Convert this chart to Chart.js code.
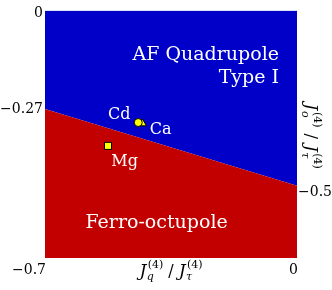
<!DOCTYPE html>
<html>
<head>
<meta charset="utf-8">
<script src="https://cdn.jsdelivr.net/npm/chart.js@4.4.1/dist/chart.umd.min.js"></script>
<style>
  html, body { margin: 0; padding: 0; background: #fff; }
</style>
</head>
<body>
<canvas id="canvas" width="332" height="290"></canvas>
<script>
const canvas = document.getElementById("canvas");

// phase boundary J_o/J_tau as function of J_q/J_tau
const boundaryX = [-0.7, 0];
const boundaryY = [-0.279, -0.496];

const leftTicks = [0, -0.27];
const rightTicks = [-0.5];
const bottomTicks = [-0.7, 0];

const compounds = ['Cd', 'Ca', 'Mg'];
const compoundX = [-0.441, -0.429, -0.525];
const compoundY = [-0.317, -0.320, -0.383];
const compoundShapes = ['circle', 'triangle', 'rect'];
const compoundSizes = [4, 4.5, 5];
const compoundLabelX = [-0.494, -0.379, -0.479];
const compoundLabelY = [-0.296, -0.337, -0.427];

const regionNames = ['AF Quadrupole', 'Type I', 'Ferro-octupole'];
const regionX = [-0.05, -0.05, -0.39];
const regionY = [-0.126, -0.19, -0.6];
const regionAlign = ['right', 'right', 'center'];

// axis titles: [base, subscript, superscript] groups
const xTitle = [['J', 'q', '(4)'], '/', ['J', 'τ', '(4)']];
const yTitle = [['J', 'o', '(4)'], '/', ['J', 'τ', '(4)']];

const BLUE = '#0000c8';
const RED = '#c20000';
const YELLOW = '#ffff00';
const SERIF = '"DejaVu Serif", serif';

function tickText(v) {
  if (v === 0) return '0';
  return (v < 0 ? '\u2212' : '') + Math.abs(v);
}

function setTicks(values) {
  return axis => { axis.ticks = values.map(v => ({ value: v })); };
}

const boundary = boundaryX.map((x, i) => ({ x: x, y: boundaryY[i] }));

function groupWidth(ctx, part, gap) {
  if (typeof part === 'string') {
    ctx.font = '16px ' + SERIF;
    return ctx.measureText(part).width + 2 * gap;
  }
  ctx.font = 'italic 17px ' + SERIF;
  const wb = ctx.measureText(part[0]).width + 1.5;
  ctx.font = 'italic 11px ' + SERIF;
  const ws = ctx.measureText(part[1]).width;
  ctx.font = '11px ' + SERIF;
  const wp = ctx.measureText(part[2]).width;
  return wb + Math.max(ws, wp);
}

function drawMath(ctx, parts, cx, cy, rotation, gap) {
  ctx.save();
  ctx.translate(cx, cy);
  ctx.rotate(rotation);
  ctx.fillStyle = '#000';
  ctx.textBaseline = 'alphabetic';
  ctx.textAlign = 'left';
  const total = parts.reduce((s, p) => s + groupWidth(ctx, p, gap), 0);
  let x = -total / 2;
  const base = 6;
  parts.forEach(p => {
    const w = groupWidth(ctx, p, gap);
    if (typeof p === 'string') {
      ctx.font = '16px ' + SERIF;
      ctx.fillText(p, x + gap, base);
    } else {
      ctx.font = 'italic 17px ' + SERIF;
      ctx.fillText(p[0], x, base);
      const bx = x + ctx.measureText(p[0]).width + 1.5;
      ctx.font = '11px ' + SERIF;
      ctx.fillText(p[2], bx, base - 8);
      ctx.font = 'italic 11px ' + SERIF;
      ctx.fillText(p[1], bx - 1, base + 4);
    }
    x += w;
  });
  ctx.restore();
}

const annotations = {
  id: 'annotations',
  afterDatasetsDraw(chart) {
    const { ctx, scales } = chart;
    ctx.save();
    ctx.fillStyle = '#fff';
    ctx.textBaseline = 'middle';
    ctx.font = '19px ' + SERIF;
    regionNames.forEach((name, i) => {
      ctx.textAlign = regionAlign[i];
      ctx.fillText(name, scales.x.getPixelForValue(regionX[i]), scales.y.getPixelForValue(regionY[i]));
    });
    ctx.font = '16px ' + SERIF;
    ctx.textAlign = 'center';
    compounds.forEach((name, i) => {
      ctx.fillText(name, scales.x.getPixelForValue(compoundLabelX[i]), scales.y.getPixelForValue(compoundLabelY[i]));
    });
    ctx.restore();
  },
  afterDraw(chart) {
    const { ctx, chartArea } = chart;
    drawMath(ctx, xTitle, (chartArea.left + chartArea.right) / 2, chartArea.bottom + 12, 0, 5);
    drawMath(ctx, yTitle, chartArea.right + 15, (chartArea.top + chartArea.bottom) / 2 + 2, Math.PI / 2, 6);
  }
};

const pointSets = compounds.map((name, i) => ({
  type: 'scatter',
  label: name,
  data: [{ x: compoundX[i], y: compoundY[i] }],
  pointStyle: compoundShapes[i],
  pointRadius: compoundSizes[i],
  backgroundColor: YELLOW,
  borderColor: '#000',
  borderWidth: 1,
  order: 1
}));

let chart = new Chart(canvas, {
  type: 'scatter',
  data: {
    datasets: [
      ...pointSets,
      {
        type: 'line',
        label: 'Ferro-octupole',
        data: boundary,
        fill: 'start',
        backgroundColor: RED,
        borderWidth: 0,
        pointRadius: 0,
        order: 3
      }, {
        type: 'line',
        label: 'AF Quadrupole',
        data: boundary,
        fill: 'end',
        backgroundColor: BLUE,
        borderWidth: 0,
        pointRadius: 0,
        order: 3
      }
    ]
  },
  options: {
    responsive: false,
    animation: false,
    layout: { padding: { top: 7, left: 0, right: 0, bottom: 0 } },
    plugins: {
      legend: { display: false },
      tooltip: { enabled: false }
    },
    scales: {
      x: {
        type: 'linear',
        position: 'bottom',
        min: -0.7,
        max: 0,
        grid: { display: false, drawTicks: false },
        border: { display: false },
        afterBuildTicks: setTicks(bottomTicks),
        afterFit: axis => { axis.height = 32; },
        ticks: {
          color: '#000',
          font: { family: SERIF, size: 14 },
          padding: 4,
          align: 'end',
          labelOffset: 1,
          maxRotation: 0,
          callback: tickText
        }
      },
      y: {
        type: 'linear',
        position: 'left',
        min: -0.7,
        max: 0,
        grid: { display: false, drawTicks: false },
        border: { display: false },
        afterBuildTicks: setTicks(leftTicks),
        afterFit: axis => { axis.width = 45; },
        ticks: {
          color: '#000',
          font: { family: SERIF, size: 14 },
          padding: 2,
          labelOffset: 3,
          callback: tickText
        }
      },
      y2: {
        type: 'linear',
        position: 'right',
        min: -0.7,
        max: 0,
        grid: { display: false, drawTicks: false },
        border: { display: false },
        afterBuildTicks: setTicks(rightTicks),
        afterFit: axis => { axis.width = 35; },
        ticks: {
          color: '#000',
          font: { family: SERIF, size: 14 },
          padding: 1,
          labelOffset: 5,
          callback: tickText
        }
      }
    }
  },
  plugins: [annotations]
});
</script>
</body>
</html>
